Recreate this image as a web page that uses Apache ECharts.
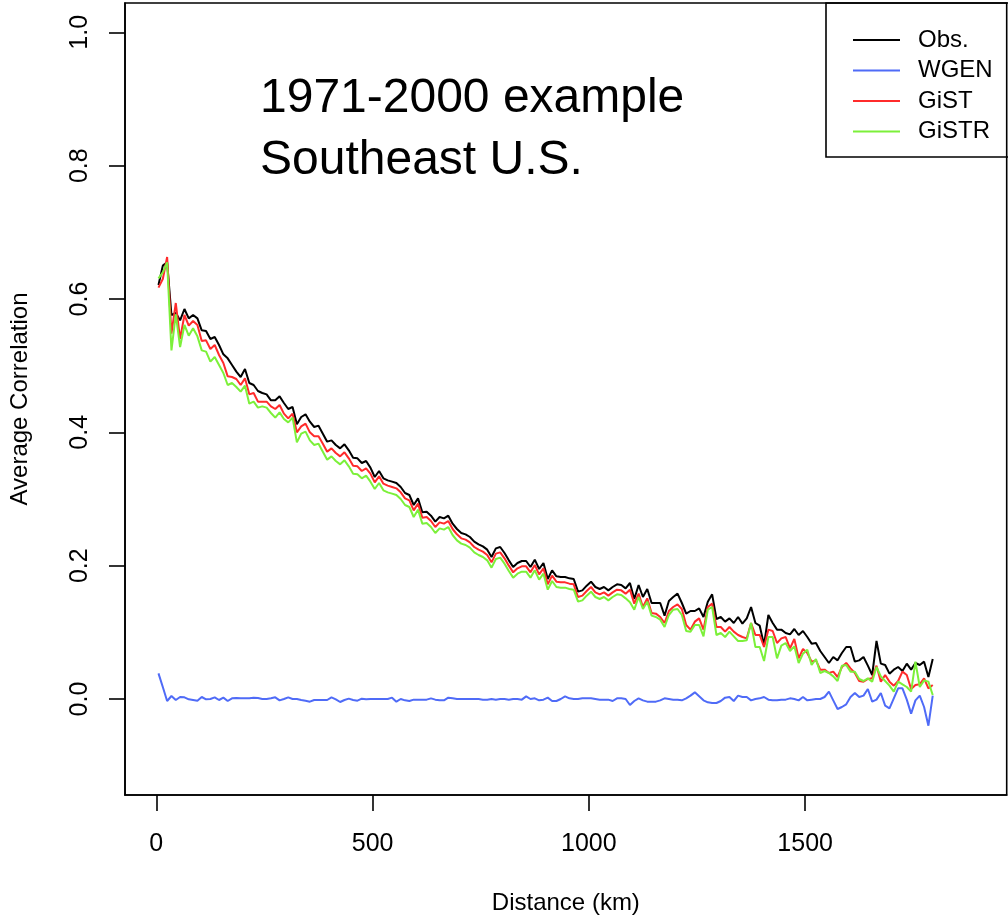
<!DOCTYPE html>
<html>
<head>
<meta charset="utf-8">
<title>Average Correlation vs Distance</title>
<script src="https://cdn.jsdelivr.net/npm/echarts@6/dist/echarts.min.js"></script>
<style>
  html, body { margin: 0; padding: 0; background: #fff; }
  #chart { width: 1008px; height: 922px; }
</style>
</head>
<body>
<div id="chart"></div>
<script>
// distance bins (km)
let distance = [
    5, 15, 25, 35, 45, 55, 65, 75, 85, 95,
    105, 115, 125, 135, 145, 155, 165, 175, 185, 195,
    205, 215, 225, 235, 245, 255, 265, 275, 285, 295,
    305, 315, 325, 335, 345, 355, 365, 375, 385, 395,
    405, 415, 425, 435, 445, 455, 465, 475, 485, 495,
    505, 515, 525, 535, 545, 555, 565, 575, 585, 595,
    605, 615, 625, 635, 645, 655, 665, 675, 685, 695,
    705, 715, 725, 735, 745, 755, 765, 775, 785, 795,
    805, 815, 825, 835, 845, 855, 865, 875, 885, 895,
    905, 915, 925, 935, 945, 955, 965, 975, 985, 995,
    1005, 1015, 1025, 1035, 1045, 1055, 1065, 1075, 1085, 1095,
    1105, 1115, 1125, 1135, 1145, 1155, 1165, 1175, 1185, 1195,
    1205, 1215, 1225, 1235, 1245, 1255, 1265, 1275, 1285, 1295,
    1305, 1315, 1325, 1335, 1345, 1355, 1365, 1375, 1385, 1395,
    1405, 1415, 1425, 1435, 1445, 1455, 1465, 1475, 1485, 1495,
    1505, 1515, 1525, 1535, 1545, 1555, 1565, 1575, 1585, 1595,
    1605, 1615, 1625, 1635, 1645, 1655, 1665, 1675, 1685, 1695,
    1705, 1715, 1725, 1735, 1745, 1755, 1765, 1775, 1785, 1795
];

let obs = [
    0.621, 0.650, 0.655, 0.576, 0.579, 0.568, 0.585, 0.571, 0.576, 0.571,
    0.553, 0.552, 0.540, 0.543, 0.531, 0.517, 0.511, 0.501, 0.491, 0.483,
    0.495, 0.474, 0.471, 0.462, 0.459, 0.457, 0.448, 0.448, 0.454, 0.444,
    0.435, 0.438, 0.412, 0.423, 0.427, 0.416, 0.408, 0.410, 0.398, 0.386,
    0.388, 0.381, 0.376, 0.382, 0.373, 0.362, 0.361, 0.354, 0.357, 0.347,
    0.333, 0.342, 0.331, 0.328, 0.326, 0.324, 0.318, 0.309, 0.306, 0.291,
    0.301, 0.280, 0.281, 0.275, 0.266, 0.273, 0.271, 0.275, 0.263, 0.255,
    0.249, 0.247, 0.243, 0.236, 0.232, 0.229, 0.224, 0.213, 0.226, 0.228,
    0.219, 0.208, 0.198, 0.204, 0.207, 0.207, 0.198, 0.209, 0.195, 0.204,
    0.180, 0.193, 0.184, 0.183, 0.183, 0.181, 0.180, 0.161, 0.163, 0.170,
    0.176, 0.168, 0.165, 0.168, 0.163, 0.168, 0.172, 0.171, 0.166, 0.174,
    0.150, 0.171, 0.153, 0.165, 0.144, 0.144, 0.144, 0.125, 0.147, 0.153,
    0.158, 0.144, 0.128, 0.132, 0.132, 0.136, 0.123, 0.146, 0.157, 0.120,
    0.123, 0.116, 0.121, 0.114, 0.123, 0.113, 0.121, 0.138, 0.114, 0.110,
    0.081, 0.126, 0.114, 0.104, 0.104, 0.099, 0.097, 0.105, 0.096, 0.102,
    0.093, 0.083, 0.084, 0.072, 0.063, 0.054, 0.063, 0.058, 0.069, 0.078,
    0.078, 0.056, 0.058, 0.063, 0.050, 0.036, 0.087, 0.053, 0.051, 0.038,
    0.044, 0.048, 0.042, 0.053, 0.044, 0.054, 0.051, 0.056, 0.033, 0.060
];

let wgen = [
    0.0385, 0.018, -0.003, 0.0045, -0.0015, 0.003, 0.0025, -0.0005, -0.0015, -0.0025,
    0.003, -0.0005, 0, 0.0025, -0.0015, 0.002, -0.003, 0.001, 0.0015, 0.001,
    0.001, 0.001, 0.002, 0.0015, 0, 0, 0.001, 0.0025, -0.002, 0,
    0.0025, 0, 0, -0.0015, -0.0025, -0.004, -0.0015, -0.0015, -0.0015, -0.0015,
    0.0025, -0.0005, -0.0045, -0.0015, 0.0005, -0.0015, -0.0025, 0.0005, -0.0005, 0,
    0, 0, 0, 0, 0.002, -0.004, 0, -0.002, -0.003, -0.001,
    -0.001, -0.001, -0.001, 0.001, -0.001, -0.002, -0.002, 0.002, 0.001, 0,
    0, 0, 0, 0, 0, -0.001, -0.001, 0, -0.001, 0,
    0, -0.001, 0, 0, -0.001, 0.004, 0, 0.001, -0.002, -0.001,
    0.002, -0.003, -0.003, 0, 0.004, 0.001, 0, 0, 0.001, 0.001,
    0.001, 0, -0.001, -0.001, -0.001, -0.003, 0.001, 0.001, 0, -0.009,
    -0.003, 0.001, -0.002, -0.004, -0.004, -0.004, -0.002, 0.001, 0, -0.001,
    -0.001, -0.002, 0.001, 0.005, 0.010, 0.004, -0.002, -0.005, -0.006, -0.006,
    -0.003, 0.002, 0.003, -0.003, 0.005, 0.003, 0.003, -0.002, 0, 0.001,
    0.003, -0.001, -0.002, -0.002, -0.001, -0.001, 0.001, 0, -0.002, 0.003,
    -0.002, -0.001, 0, 0, 0.003, 0.011, -0.002, -0.015, -0.012, -0.008,
    0.003, 0.009, 0.003, 0.005, 0.015, -0.004, -0.001, 0.009, -0.010, -0.014,
    0.001, 0.016, 0.016, -0.001, -0.022, -0.002, 0.005, -0.012, -0.040, 0.005
];

let gist = [
    0.617, 0.630, 0.663, 0.548, 0.594, 0.540, 0.576, 0.560, 0.567, 0.561,
    0.537, 0.538, 0.525, 0.531, 0.516, 0.504, 0.484, 0.483, 0.480, 0.471,
    0.481, 0.457, 0.459, 0.446, 0.446, 0.446, 0.439, 0.435, 0.441, 0.428,
    0.421, 0.428, 0.400, 0.409, 0.413, 0.400, 0.394, 0.394, 0.383, 0.371,
    0.376, 0.369, 0.364, 0.370, 0.361, 0.350, 0.349, 0.342, 0.346, 0.338,
    0.325, 0.334, 0.323, 0.320, 0.318, 0.316, 0.310, 0.301, 0.298, 0.283,
    0.293, 0.272, 0.273, 0.267, 0.258, 0.265, 0.263, 0.267, 0.255, 0.247,
    0.241, 0.239, 0.235, 0.228, 0.224, 0.221, 0.216, 0.205, 0.218, 0.220,
    0.211, 0.200, 0.190, 0.196, 0.199, 0.199, 0.190, 0.201, 0.187, 0.196,
    0.172, 0.185, 0.176, 0.175, 0.175, 0.173, 0.172, 0.153, 0.155, 0.162,
    0.168, 0.160, 0.157, 0.160, 0.155, 0.160, 0.164, 0.163, 0.158, 0.164,
    0.143, 0.158, 0.138, 0.151, 0.129, 0.128, 0.123, 0.114, 0.132, 0.138,
    0.142, 0.135, 0.111, 0.104, 0.116, 0.121, 0.104, 0.138, 0.143, 0.108,
    0.108, 0.101, 0.108, 0.101, 0.096, 0.093, 0.091, 0.114, 0.096, 0.096,
    0.078, 0.104, 0.102, 0.084, 0.091, 0.093, 0.076, 0.090, 0.061, 0.075,
    0.069, 0.056, 0.058, 0.044, 0.044, 0.039, 0.041, 0.033, 0.048, 0.054,
    0.046, 0.039, 0.027, 0.026, 0.030, 0.031, 0.050, 0.026, 0.036, 0.026,
    0.020, 0.027, 0.041, 0.036, 0.015, 0.021, 0.022, 0.031, 0.016, 0.021
];

let gistr = [
    0.631, 0.640, 0.655, 0.523, 0.577, 0.528, 0.561, 0.545, 0.556, 0.544,
    0.523, 0.521, 0.506, 0.513, 0.501, 0.489, 0.471, 0.474, 0.468, 0.461,
    0.470, 0.443, 0.446, 0.437, 0.439, 0.437, 0.429, 0.422, 0.430, 0.420,
    0.415, 0.422, 0.385, 0.398, 0.401, 0.388, 0.381, 0.383, 0.371, 0.359,
    0.364, 0.357, 0.352, 0.358, 0.349, 0.338, 0.337, 0.331, 0.335, 0.326,
    0.315, 0.324, 0.313, 0.310, 0.308, 0.306, 0.300, 0.291, 0.288, 0.273,
    0.284, 0.263, 0.264, 0.258, 0.249, 0.256, 0.254, 0.258, 0.246, 0.238,
    0.233, 0.231, 0.227, 0.220, 0.216, 0.213, 0.208, 0.197, 0.210, 0.212,
    0.203, 0.192, 0.182, 0.188, 0.191, 0.191, 0.182, 0.193, 0.179, 0.188,
    0.164, 0.177, 0.168, 0.167, 0.167, 0.165, 0.164, 0.146, 0.148, 0.155,
    0.161, 0.153, 0.150, 0.153, 0.148, 0.153, 0.157, 0.156, 0.151, 0.145,
    0.134, 0.153, 0.135, 0.146, 0.125, 0.123, 0.119, 0.108, 0.126, 0.134,
    0.135, 0.126, 0.102, 0.101, 0.111, 0.111, 0.094, 0.134, 0.138, 0.096,
    0.099, 0.093, 0.101, 0.094, 0.087, 0.087, 0.088, 0.114, 0.078, 0.078,
    0.057, 0.093, 0.093, 0.061, 0.080, 0.084, 0.072, 0.079, 0.054, 0.068,
    0.074, 0.051, 0.060, 0.039, 0.042, 0.039, 0.034, 0.027, 0.050, 0.051,
    0.041, 0.041, 0.030, 0.027, 0.031, 0.026, 0.048, 0.034, 0.027, 0.020,
    0.011, 0.026, 0.022, 0.018, 0.011, 0.056, 0.018, 0.028, 0.026, 0.006
];

let xTicks = [0, 500, 1000, 1500];
let yTicks = [0, 0.2, 0.4, 0.6, 0.8, 1.0];

let font = '"Liberation Sans", Arial, Helvetica, sans-serif';

let pairs = function(vals) {
    return distance.map((d, i) => [d, vals[i]]);
};

let lineSeries = function(name, vals, color) {
    return {
        name: name,
        type: 'line',
        data: pairs(vals),
        symbol: 'none',
        silent: true,
        animation: false,
        lineStyle: { color: color, width: 2 },
        itemStyle: { color: color }
    };
};

var chart = echarts.init(document.getElementById('chart'));

option = {
    backgroundColor: '#ffffff',
    animation: false,
    grid: {
        left: 125,
        right: 1.3,
        top: 3,
        bottom: 127,
        containLabel: false,
        outerBoundsMode: 'none',
        show: true,
        borderColor: '#000',
        borderWidth: 1.6
    },
    xAxis: {
        type: 'value',
        min: -72.4,
        max: 1966,
        name: 'Distance (km)',
        nameLocation: 'middle',
        nameGap: 96,
        nameTextStyle: { fontFamily: font, fontSize: 24, color: '#000' },
        axisLine: { show: true, onZero: false, lineStyle: { color: '#000', width: 1.6 } },
        splitLine: { show: false },
        axisTick: {
            show: true,
            inside: false,
            length: 16,
            lineStyle: { color: '#000', width: 1.6 },
            customValues: xTicks
        },
        axisLabel: {
            fontFamily: font,
            fontSize: 25,
            color: '#000',
            margin: 37,
            customValues: xTicks,
            formatter: v => String(v)
        }
    },
    yAxis: {
        type: 'value',
        min: -0.144,
        max: 1.044,
        name: 'Average Correlation',
        nameLocation: 'middle',
        nameGap: 93,
        nameTextStyle: { fontFamily: font, fontSize: 24, color: '#000' },
        axisLine: { show: true, onZero: false, lineStyle: { color: '#000', width: 1.6 } },
        splitLine: { show: false },
        axisTick: {
            show: true,
            inside: false,
            length: 16,
            lineStyle: { color: '#000', width: 1.6 },
            customValues: yTicks
        },
        axisLabel: {
            fontFamily: font,
            fontSize: 25,
            color: '#000',
            rotate: 90,
            margin: 32,
            customValues: yTicks,
            formatter: v => v.toFixed(1)
        }
    },
    legend: {
        orient: 'vertical',
        left: 848,
        top: 20,
        icon: 'rect',
        itemWidth: 47,
        itemHeight: 2,
        itemGap: 0.5,
        selectedMode: false,
        textStyle: {
            fontFamily: font,
            fontSize: 24,
            color: '#000',
            lineHeight: 30,
            padding: [0, 0, 0, 13]
        },
        data: ['Obs.', 'WGEN', 'GiST', 'GiSTR']
    },
    graphic: [{
        type: 'rect',
        shape: { x: 826, y: 3, width: 200, height: 154 },
        style: { fill: 'none', stroke: '#000', lineWidth: 1.6 },
        z: 100
    }, {
        type: 'text',
        left: 260,
        top: 68,
        style: {
            text: '1971-2000 example\nSoutheast U.S.',
            fontFamily: font,
            fontSize: 48,
            lineHeight: 62,
            fill: '#000'
        }
    }],
    series: [
        lineSeries('Obs.', obs, '#000000'),
        lineSeries('WGEN', wgen, '#4f6bf7'),
        lineSeries('GiST', gist, '#ff2b2b'),
        lineSeries('GiSTR', gistr, '#7cf03a')
    ]
};
chart.setOption(option);
</script>
</body>
</html>
